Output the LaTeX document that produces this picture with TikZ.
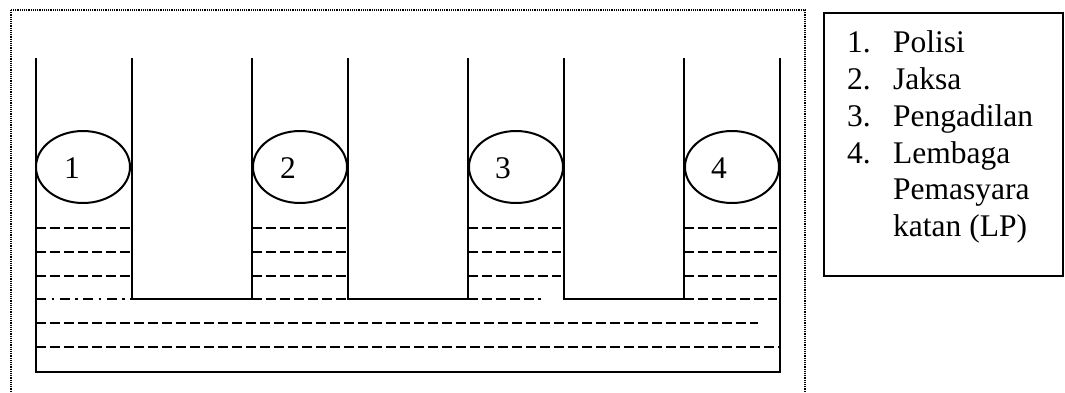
\documentclass[tikz,border=0pt]{standalone}
\usepackage{fontspec}
\setmainfont{Liberation Serif}
\usetikzlibrary{shapes.geometric}
\begin{document}
\begin{tikzpicture}[x=1pt,y=-1pt,
  wall/.style={line width=2.1pt, line cap=rect},
  level/.style={line width=2.7pt, dash pattern=on 9.5pt off 4.5pt},
  leveldot/.style={line width=2.7pt, dash pattern=on 10pt off 5.5pt on 2.5pt off 5.5pt},
  frame/.style={line width=2pt, dash pattern=on 1.2pt off 1pt},
  tank/.style={ellipse, draw, line width=2pt, fill=white, minimum width=94pt, minimum height=72pt, inner sep=0pt},
  num/.style={font=\fontsize{31.5}{37}\selectfont, anchor=base, inner sep=0pt},
  legtxt/.style={font=\fontsize{31.5}{37}\selectfont, anchor=base west, inner sep=0pt}]
\path[use as bounding box] (0,0) rectangle (1065,392);
\clip (0,0) rectangle (1065,392);
\fill[white] (0,0) rectangle (1065,392);
% dotted frame
\draw[frame] (11,10) rectangle (805,410);
% dashed levels inside tubes
\foreach \y in {228,252,276}{
  \draw[level] (36,\y) -- (130,\y);
  \draw[level] (252,\y) -- (346,\y);
  \draw[level] (468,\y) -- (561,\y);
  \draw[level] (684,\y) -- (777,\y);
}
\draw[leveldot] (36,299) -- (132,299);
\draw[level] (252,299) -- (348,299);
\draw[level] (468,299) -- (541,299);
\draw[level] (684,299) -- (777,299);
\draw[level] (36,323) -- (758,323);
\draw[level] (36,347) -- (780,347);
% vessel walls
\draw[wall] (36,59) -- (36,372) -- (780,372) -- (780,59);
\draw[wall] (132,59) -- (132,299) -- (252,299) -- (252,59);
\draw[wall] (348,59) -- (348,299) -- (468,299) -- (468,59);
\draw[wall] (564,59) -- (564,299) -- (684,299) -- (684,59);
% ellipses
\node[tank] (e1) at (83,167) {};
\node[tank] (e2) at (300,167) {};
\node[tank] (e3) at (516,167) {};
\node[tank] (e4) at (732,167) {};
\node[num] (n1) at (72,178) {1};
\node[num] (n2) at (288,178) {2};
\node[num] (n3) at (503,178) {3};
\node[num] (n4) at (719,178) {4};
% legend
\draw[line width=2pt] (824,13) rectangle (1063,276);
\node[legtxt] (l1n) at (847,52) {1.};
\node[legtxt] (l1) at (893,52) {Polisi};
\node[legtxt] (l2n) at (847,89) {2.};
\node[legtxt] (l2) at (893,89) {Jaksa};
\node[legtxt] (l3n) at (847,126) {3.};
\node[legtxt] (l3) at (893,126) {Pengadilan};
\node[legtxt] (l4n) at (847,163) {4.};
\node[legtxt] (l4) at (893,163) {Lembaga};
\node[legtxt] (l5) at (893,199) {Pemasyara};
\node[legtxt] (l6) at (893,236) {katan (LP)};
\end{tikzpicture}
\end{document}
